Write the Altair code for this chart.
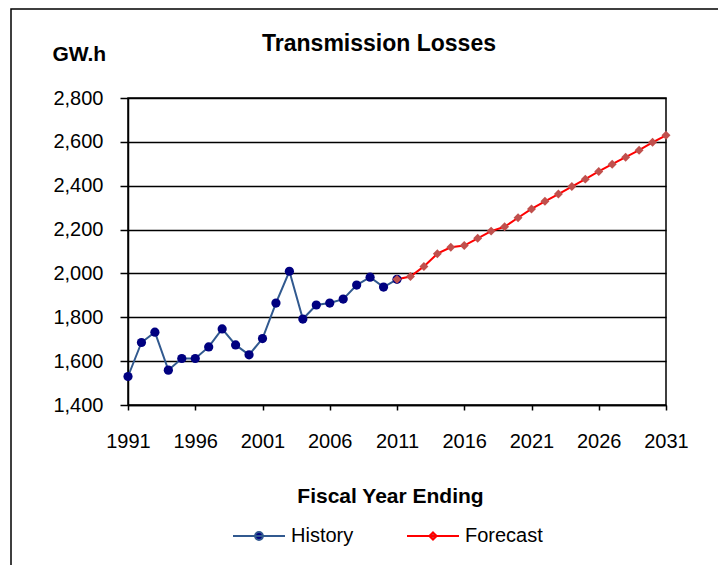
import altair as alt
import pandas as pd

FONT = "Liberation Sans"

hist_years = [1991, 1992, 1993, 1994, 1995, 1996, 1997, 1998, 1999, 2000, 2001,
              2002, 2003, 2004, 2005, 2006, 2007, 2008, 2009, 2010, 2011]
hist_values = [1530, 1685, 1732, 1559, 1612, 1612, 1665, 1747, 1674, 1629, 1703,
               1865, 2010, 1792, 1856, 1865, 1883, 1947, 1983, 1938, 1973]

fc_years = [2011, 2012, 2013, 2014, 2015, 2016, 2017, 2018, 2019, 2020, 2021,
            2022, 2023, 2024, 2025, 2026, 2027, 2028, 2029, 2030, 2031]
fc_values = [1973, 1986, 2032, 2090, 2119, 2127, 2160, 2193, 2213, 2254, 2294,
             2329, 2362, 2396, 2430, 2465, 2498, 2530, 2562, 2598, 2630]

series_names = ["History", "Forecast"]
x_ticks = [1991, 1996, 2001, 2006, 2011, 2016, 2021, 2026, 2031]
y_ticks = [1400, 1600, 1800, 2000, 2200, 2400, 2600, 2800]

df = pd.concat([
    pd.DataFrame({"year": hist_years, "value": hist_values, "series": "History"}),
    pd.DataFrame({"year": fc_years, "value": fc_values, "series": "Forecast"}),
])

HIST_LINE = "#31598F"
HIST_MARK = "#000080"
FC_LINE = "#FF0000"
FC_MARK = "#C0504D"

x_enc = alt.X("year:Q",
              scale=alt.Scale(domain=[1991, 2031], nice=False, zero=False),
              axis=alt.Axis(values=x_ticks, format="d", title="Fiscal Year Ending",
                            grid=False, tickSize=5, labelPadding=21,
                            labelFlush=False, labelOverlap=False,
                            titleX=262, titleY=97, titleBaseline="alphabetic",
                            titleFontSize=21, titleFontWeight="bold"))
y_enc = alt.Y("value:Q",
              scale=alt.Scale(domain=[1400, 2800], nice=False, zero=False),
              axis=alt.Axis(values=y_ticks, format=",d", title="GW.h",
                            grid=True, gridColor="black", gridWidth=1.5,
                            tickSize=8, labelPadding=17,
                            labelFlush=False, labelOverlap=False,
                            titleAngle=0, titleX=-76, titleY=-38,
                            titleAlign="left", titleBaseline="alphabetic",
                            titleFontSize=21, titleFontWeight="bold"))

base = alt.Chart(df)

frame = alt.Chart(alt.Data(values=[{"k": 1}])).mark_rect(
    fill="transparent", stroke="black", strokeWidth=1.5
).encode(x=alt.value(-117), x2=alt.value(700), y=alt.value(-89), y2=alt.value(600))

hist_line = base.transform_filter(alt.datum.series == "History").mark_line(
    color=HIST_LINE, strokeWidth=2).encode(x=x_enc, y=y_enc)
fc_line = base.transform_filter(alt.datum.series == "Forecast").mark_line(
    color=FC_LINE, strokeWidth=2).encode(x=x_enc, y=y_enc)
hist_pts = base.transform_filter(alt.datum.series == "History").mark_point(
    filled=True, shape="circle", size=85, color=HIST_MARK, opacity=1).encode(x=x_enc, y=y_enc)
fc_pts = base.transform_filter(alt.datum.series == "Forecast").mark_point(
    filled=True, shape="diamond", size=80, color=FC_MARK, opacity=1).encode(x=x_enc, y=y_enc)

hist_sym = "M-1,0L1,0M-0.15,0A0.15,0.15,0,1,0,0.15,0A0.15,0.15,0,1,0,-0.15,0Z"
fc_sym = "M-1,0L1,0M0,-0.14L0.14,0L0,0.14L-0.14,0Z"

legend = alt.Legend(title=None, orient="none", direction="horizontal",
                    legendX=104, legendY=411, padding=0,
                    symbolSize=2704, symbolStrokeWidth=2, labelOffset=5,
                    columnPadding=49, labelFontSize=20, labelFont=FONT,
                    labelColor="black", symbolOpacity=1)

legend_layer = base.transform_filter("false").mark_point(
    filled=True, strokeWidth=2, size=2704, opacity=1
).encode(
    x=x_enc, y=y_enc,
    fill=alt.Fill("series:N", scale=alt.Scale(domain=series_names, range=[HIST_MARK, FC_MARK]), legend=legend),
    stroke=alt.Stroke("series:N", scale=alt.Scale(domain=series_names, range=[HIST_LINE, FC_LINE]), legend=legend),
    shape=alt.Shape("series:N", scale=alt.Scale(domain=series_names, range=[hist_sym, fc_sym]), legend=legend),
)

chart = alt.layer(frame, hist_line, fc_line, hist_pts, fc_pts, legend_layer).properties(
    width=538, height=307,
    title=alt.TitleParams("Transmission Losses", fontSize=23, font=FONT, fontWeight="bold",
                          anchor="middle", dx=-18, offset=-66, frame="group",
                          baseline="alphabetic", color="black"),
    padding={"left": 120, "top": 90, "right": 52, "bottom": 160},
    autosize=alt.AutoSizeParams(type="none"),
    background="white",
).configure_view(
    stroke="black", strokeWidth=1.5
).configure_axis(
    domainColor="black", domainWidth=1.5, tickColor="black", tickWidth=1.5,
    labelFont=FONT, labelFontSize=20, labelColor="black",
    titleFont=FONT, titleColor="black",
)

chart.save("out.html", embed_options={"renderer": "svg", "actions": False})
